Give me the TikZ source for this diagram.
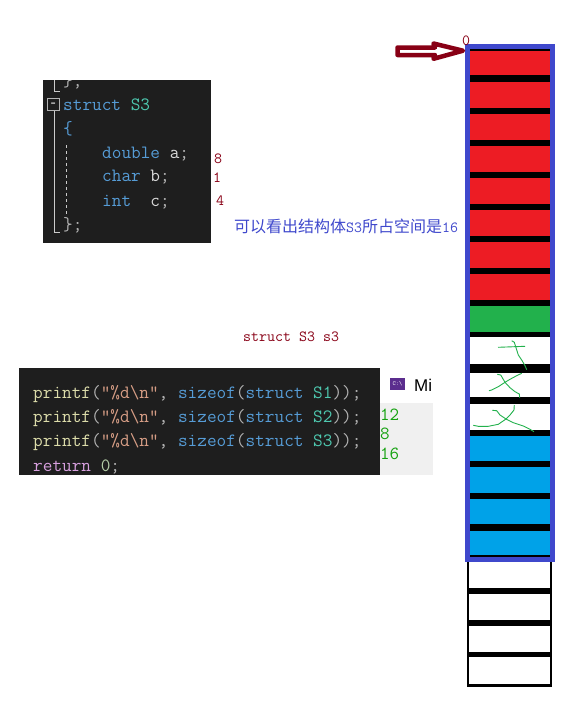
\documentclass[tikz,border=0pt]{standalone}
\usepackage{fontspec}
\newfontfamily\cjkfont{Noto Sans CJK SC}
\newfontfamily\sansfont{Liberation Sans}
\definecolor{paintred}{HTML}{ED1C24}
\definecolor{paintgreen}{HTML}{22B14C}
\definecolor{paintblue}{HTML}{00A2E8}
\definecolor{frameblue}{HTML}{3F48CC}
\definecolor{darkred}{HTML}{880015}
\definecolor{editorbg}{HTML}{1E1E1E}
\definecolor{codeblue}{HTML}{569CD6}
\definecolor{codeteal}{HTML}{4EC9B0}
\definecolor{codefn}{HTML}{DCDCAA}
\definecolor{codestr}{HTML}{D69D85}
\definecolor{codepunct}{HTML}{B4B4B4}
\definecolor{codepurple}{HTML}{D8A0DF}
\definecolor{codenum}{HTML}{B5CEA8}
\definecolor{codevar}{HTML}{DADADA}
\definecolor{outgreen}{HTML}{13A10E}
\definecolor{iconpurple}{HTML}{5B2D8E}
\newcommand{\codekw}[1]{\textcolor{codeblue}{#1}}
\newcommand{\codety}[1]{\textcolor{codeteal}{#1}}
\newcommand{\codevr}[1]{\textcolor{codevar}{#1}}
\tikzset{
    %Define style for code lines
    codeline/.style={
   	anchor=base west,
   	inner sep=0pt,
   	text=codepunct,
   	font=\fontsize{18.75}{20}\selectfont\ttfamily
   },
    %Define style for the red notes
    note/.style={
   	anchor=base west,
   	inner sep=0pt,
   	text=darkred,
   	font=\fontsize{15.5}{17}\selectfont\ttfamily
   },
    output/.style={
   	anchor=base west,
   	inner sep=0pt,
   	text=outgreen,
   	font=\fontsize{18.5}{20}\selectfont\ttfamily
   },
    scribble/.style={
   	draw=paintgreen,
   	line width=.9pt
   },
    guide/.style={
   	draw=codepunct!70,
   	line width=1pt
   },
}
\begin{document}
\begin{tikzpicture}[x=1pt,y=-1pt]
\useasboundingbox (0,0) rectangle (571,710);
%memory cells below the frame
\fill[black] (467,557) rectangle (552,687);
\foreach \ya/\yb in {562/588,594/620,626/652,657/684}
	\fill[white] (469,\ya) rectangle (550,\yb);
%memory cells in the frame
\fill[black] (470,49) rectangle (550,557);
\foreach \ya/\yb/\colr in {51/75/paintred,82/108/paintred,114/140/paintred,146/172/paintred,178/204/paintred,210/236/paintred,242/268/paintred,274/300/paintred,306/332/paintgreen,337/364/white,373/397/white,404/430/white,436/461/paintblue,467/493/paintblue,499/524/paintblue,531/555/paintblue}
	\fill[\colr] (470,\ya) rectangle (550,\yb);
\draw[frameblue,line width=5pt] (467.5,46.5) rectangle (552.5,559.5);
%crossed out cells
\draw[scribble] (498,347.3) -- (525,346.3);
\draw[scribble] (511.7,340.7) -- (514.3,342.3) -- (515.7,346.7) -- (518.3,355) -- (521.7,360) -- (525,365.7) -- (526.7,369.7);
\draw[scribble] (497.3,374.3) -- (500.7,375) -- (505,382.3) -- (510,387.7) -- (515,391.7) -- (519.3,394) -- (519.7,397.7);
\draw[scribble] (521.7,373.3) -- (516.7,375.7) -- (510,379.3) -- (505,382.3) -- (498.3,386.7) -- (491.7,390) -- (489,390.7);
\draw[scribble] (492.3,410.3) -- (496.7,410.7) -- (500,415) -- (506,419) -- (513.3,422.7) -- (523.3,426) -- (530,429.3) -- (534,431.7);
\draw[scribble] (514.3,405) -- (514,410) -- (510,415) -- (506,419) -- (498.3,424.3) -- (488.3,426.3) -- (478.3,426.3) -- (473.3,425.3);
%arrow to address 0
\draw[darkred,line width=4.5pt,line join=round] (397.5,47.5) -- (435,47.5) -- (433.5,43.5) -- (463,50.7) -- (433.5,58.8) -- (435,55) -- (397.5,55) -- cycle;
\node[note] (zero) at (462,45) {0};
%struct window
\fill[editorbg] (43,80) rectangle (211,243);
\begin{scope}
\clip (43,80) rectangle (211,243);
\node[codeline] (prev) at (63,86) {\};};
\end{scope}
\draw[guide] (54,80) -- (54,91) -- (60,91);
\draw[guide] (54,111) -- (54,232) -- (60,232);
\draw[guide,dashed] (66.5,145) -- (66.5,215);
\node[draw=codepunct,line width=1pt,minimum size=12pt,inner sep=0pt,text=codevar,font=\bfseries\fontsize{13}{13}\selectfont] (fold) at (53.5,104.5) {-};
\node[codeline] (head) at (63,110) {\codekw{struct} \codety{S3}};
\node[codeline,text=codeblue] (open) at (63,134) {\{};
\node[codeline] (fa) at (102,158) {\codekw{double} \codevr{a};};
\node[codeline] (fb) at (102,181) {\codekw{char} \codevr{b};};
\node[codeline] (fc) at (102,206) {\codekw{int}\ \ \codevr{c};};
\node[codeline] (close) at (63,230) {\};};
%sizes
\node[note] (size8) at (214,163) {8};
\node[note] (size1) at (213,182) {1};
\node[note] (size4) at (216,205) {4};
\node[anchor=base west,inner sep=0pt,text=frameblue,font=\fontsize{16}{18}\selectfont\cjkfont] (remark) at (234,232) {可以看出结构体{\fontsize{15.5}{17}\selectfont\ttfamily S3}所占空间是{\fontsize{15.5}{17}\selectfont\ttfamily 16}};
\node[note] (decl) at (243,341) {struct S3 s3};
%printf window
\fill[editorbg] (19,368) rectangle (380,475);
\fill[black!6] (380,403) rectangle (433,475);
\foreach \i/\ya in {1/398,2/422,3/446}
	\node[codeline] (pr\i) at (33,\ya) {\textcolor{codefn}{printf}(\textcolor{codestr}{"\%d\textbackslash n"}, \codekw{sizeof}(\codekw{struct} \codety{S\i}));};
\node[codeline] (ret) at (33,471) {\textcolor{codepurple}{return} \textcolor{codenum}{0};};
%console
\node[fill=iconpurple,minimum width=15pt,minimum height=12pt,inner sep=0pt,text=white,font=\fontsize{6}{6}\selectfont\ttfamily] (icon) at (397.5,384) {C:\textbackslash};
\node[anchor=base west,inner sep=0pt,font=\fontsize{17}{19}\selectfont\sansfont] (title) at (414,391) {Mi};
\node[output] (out1) at (380,420) {12};
\node[output] (out2) at (380,439) {8};
\node[output] (out3) at (380,459) {16};
\end{tikzpicture}
\end{document}
